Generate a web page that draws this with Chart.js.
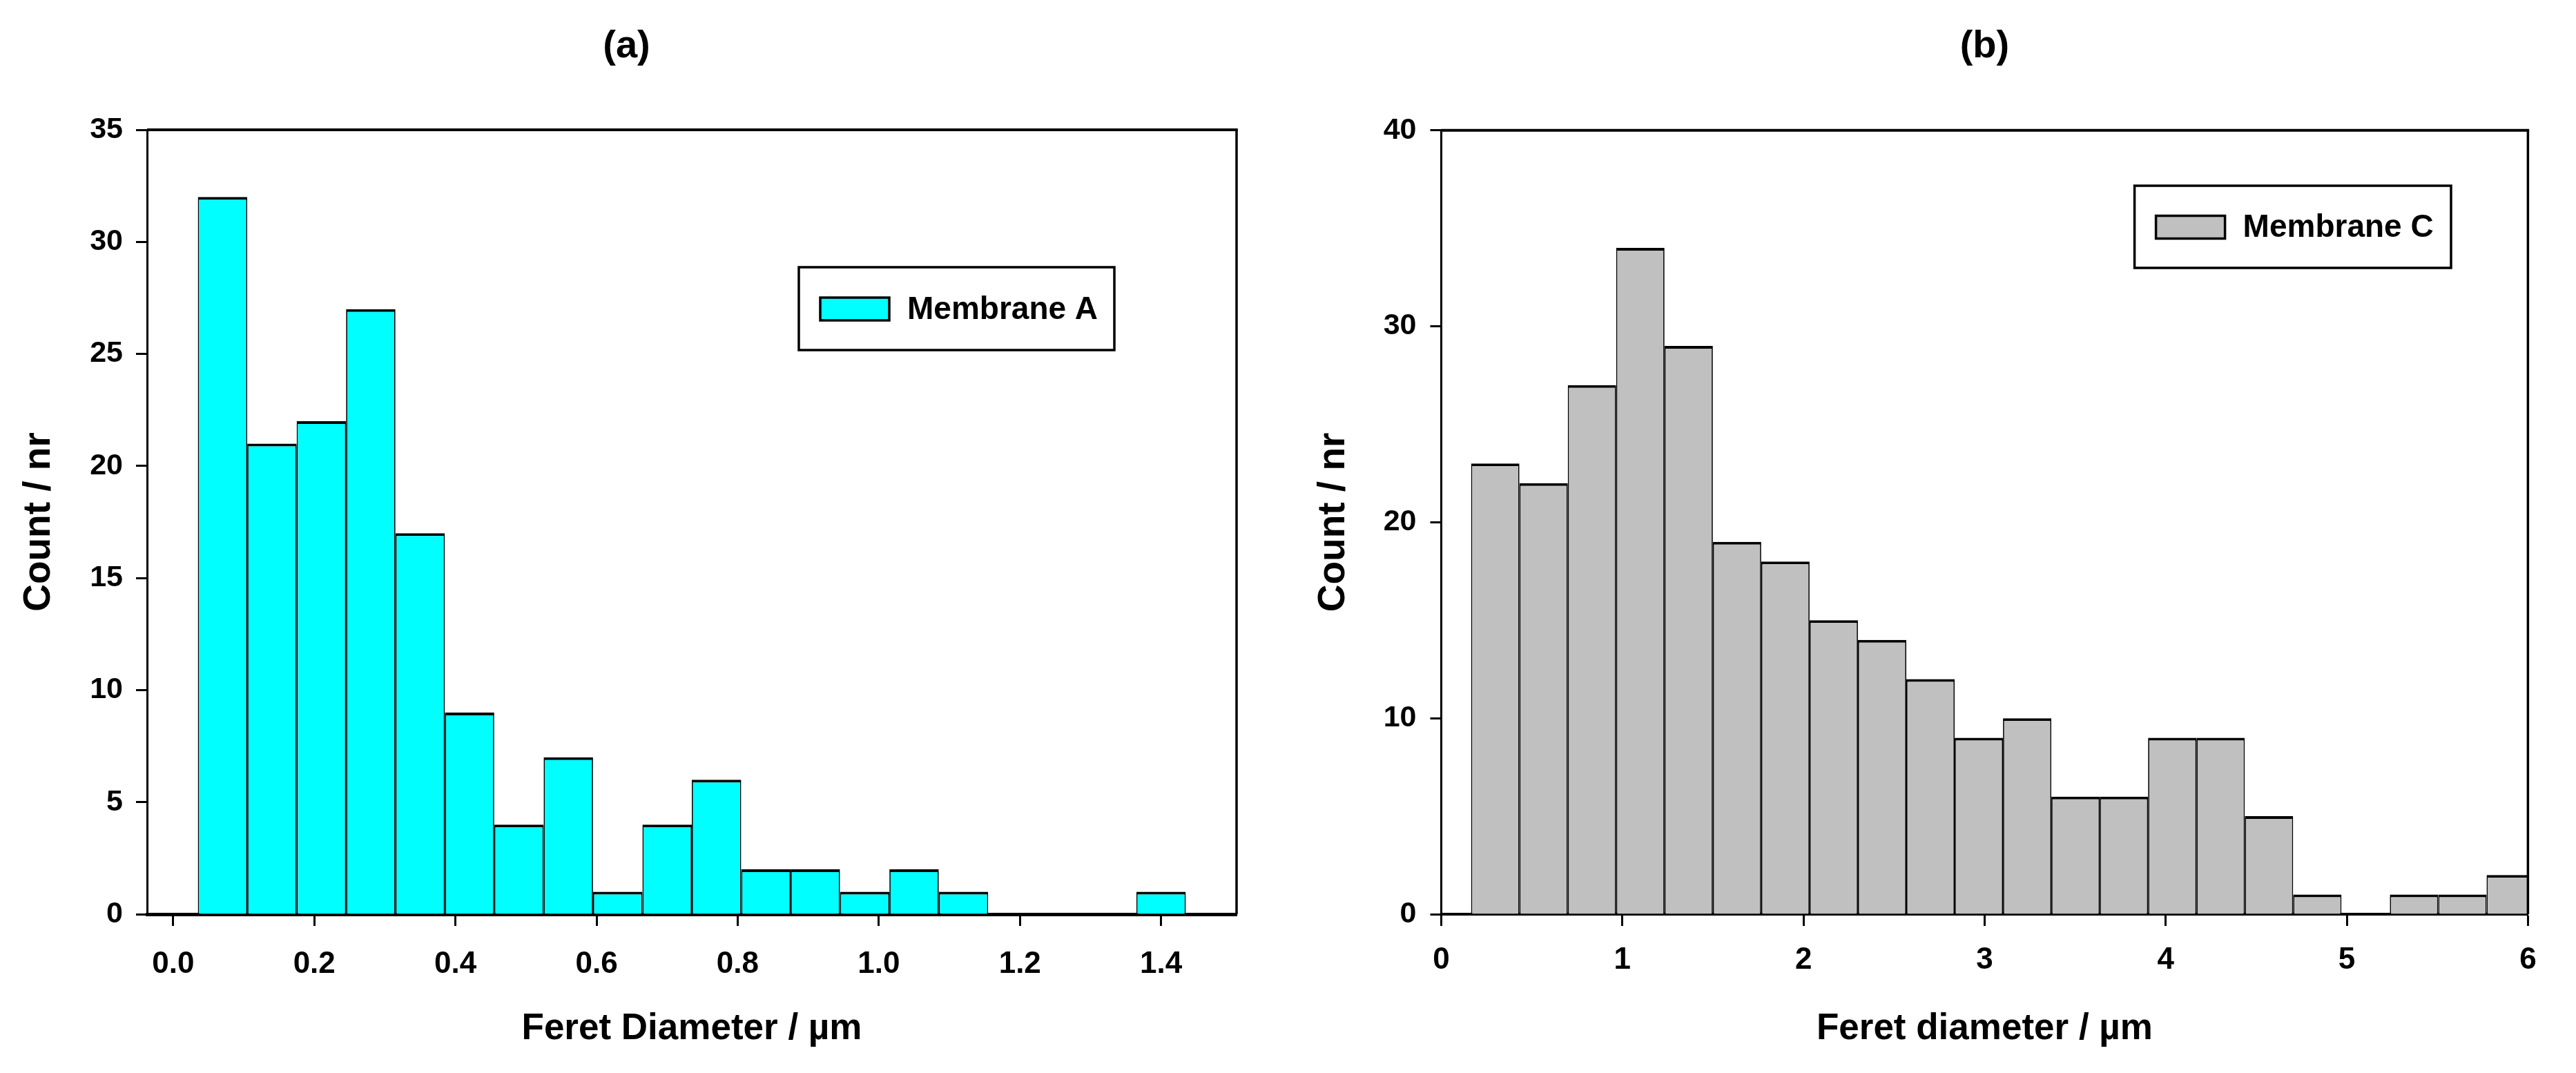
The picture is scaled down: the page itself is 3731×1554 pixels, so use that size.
<!DOCTYPE html>
<html>
<head>
<meta charset="utf-8">
<title>Feret diameter histograms</title>
<script src="https://cdn.jsdelivr.net/npm/chart.js@4.4.0/dist/chart.umd.min.js"></script>
<style>
  html, body { margin: 0; padding: 0; background: #fff; }
  #wrap { position: relative; width: 3731px; height: 1554px; overflow: hidden; }
  canvas { position: absolute; top: 0; }
  #chartA { left: 0; }
  #chartB { left: 1865px; }
</style>
</head>
<body>
<div id="wrap">
  <canvas id="chartA" width="1865" height="1554"></canvas>
  <canvas id="chartB" width="1866" height="1554"></canvas>
</div>
<script>
// (a) Membrane A - bin centres (um) and counts
const binsA = [0.07, 0.14, 0.21, 0.28, 0.35, 0.42, 0.49, 0.56, 0.63, 0.70,
               0.77, 0.84, 0.91, 0.98, 1.05, 1.12, 1.19, 1.26, 1.33, 1.40];
const countsA = [32, 21, 22, 27, 17, 9, 4, 7, 1, 4, 6, 2, 2, 1, 2, 1, 0, 0, 0, 1];
const xTicksA = [0, 0.2, 0.4, 0.6, 0.8, 1.0, 1.2, 1.4];
const yTicksA = [0, 5, 10, 15, 20, 25, 30, 35];

// (b) Membrane C
const binsC = [0.298, 0.565, 0.832, 1.099, 1.366, 1.633, 1.900, 2.167, 2.434, 2.701, 2.968,
               3.235, 3.502, 3.769, 4.036, 4.303, 4.570, 4.837, 5.104, 5.371, 5.638, 5.905];
const countsC = [23, 22, 27, 34, 29, 19, 18, 15, 14, 12, 9, 10, 6, 6, 9, 9, 5, 1, 0, 1, 1, 2];
const xTicksC = [0, 1, 2, 3, 4, 5, 6];
const yTicksC = [0, 10, 20, 30, 40];

const FONT = '"Liberation Sans", Arial, Helvetica, sans-serif';
Chart.defaults.font.family = FONT;
Chart.defaults.font.weight = 'bold';
Chart.defaults.color = '#000';

// top and right edges of the plot box
const frame = {
  id: 'frame',
  afterDraw(chart, args, opts) {
    const { left, right, top, bottom } = chart.chartArea;
    const ctx = chart.ctx;
    ctx.save();
    ctx.strokeStyle = '#000';
    ctx.lineWidth = opts.top;
    ctx.beginPath();
    ctx.moveTo(left, top);
    ctx.lineTo(right + opts.right / 2, top);
    ctx.stroke();
    ctx.lineWidth = opts.right;
    ctx.beginPath();
    ctx.moveTo(right, top);
    ctx.lineTo(right, bottom);
    ctx.stroke();
    ctx.restore();
  }
};

// boxed legend inside the plot
const boxLegend = {
  id: 'boxLegend',
  afterDraw(chart, args, o) {
    const ctx = chart.ctx;
    const ds = chart.data.datasets[0];
    const cy = o.y + o.h / 2;
    ctx.save();
    ctx.strokeStyle = '#000';
    ctx.lineWidth = 3.5;
    ctx.strokeRect(o.x, o.y, o.w, o.h);
    ctx.fillStyle = ds.backgroundColor;
    ctx.fillRect(o.x + 31, cy - 16, 100, 33);
    ctx.strokeRect(o.x + 31, cy - 16, 100, 33);
    ctx.fillStyle = '#000';
    ctx.font = 'bold 46px ' + FONT;
    ctx.textBaseline = 'middle';
    ctx.fillText(ds.label, o.x + 157, cy + 2);
    ctx.restore();
  }
};

function histogram(id, o) {
  return new Chart(document.getElementById(id), {
    type: 'bar',
    data: {
      datasets: [{
        label: o.label,
        data: o.bins.map((x, i) => ({ x: x, y: o.counts[i] })),
        backgroundColor: o.color,
        borderColor: '#000',
        borderWidth: { top: 4, left: 1.75, right: 1.75, bottom: 0 },
        borderSkipped: 'start',
        inflateAmount: 0,
        barPercentage: 1,
        categoryPercentage: 1,
        clip: 0
      }]
    },
    plugins: [frame, boxLegend],
    options: {
      responsive: false,
      animation: false,
      layout: { padding: { left: o.padLeft, right: o.padRight, top: 0, bottom: 0 } },
      plugins: {
        legend: { display: false },
        tooltip: { enabled: false },
        title: {
          display: true,
          text: o.title,
          fullSize: o.titleFull,
          font: { size: 56, weight: 'bold' },
          color: '#000',
          padding: { top: 34, bottom: o.titleBottom }
        },
        frame: { top: 4, right: 3.5 },
        boxLegend: o.legend
      },
      scales: {
        x: {
          type: 'linear',
          min: o.xMin,
          max: o.xMax,
          offset: false,
          z: 1,
          afterFit: s => { s.height = 230; },
          afterBuildTicks: s => { s.ticks = o.xTicks.map(v => ({ value: v })); },
          grid: { offset: false, drawOnChartArea: false, drawTicks: true, tickLength: 17, tickWidth: 3, tickColor: '#000' },
          border: { display: true, color: '#000', width: o.xBorder },
          ticks: {
            padding: o.xPad,
            maxRotation: 0,
            autoSkip: false,
            font: { size: 44, weight: 'bold' },
            callback: o.xFormat
          },
          title: {
            display: true,
            text: o.xTitle,
            font: { size: 53, weight: 'bold' },
            padding: { top: 0, bottom: 32 }
          }
        },
        y: {
          min: 0,
          max: o.yMax,
          z: 1,
          afterFit: s => { s.width = o.yWidth; },
          afterBuildTicks: s => { s.ticks = o.yTicks.map(v => ({ value: v })); },
          grid: { offset: false, drawOnChartArea: false, drawTicks: true, tickLength: 16, tickWidth: 3, tickColor: '#000' },
          border: { display: true, color: '#000', width: 3 },
          ticks: { padding: o.yPad, font: { size: 43, weight: 'bold' } },
          title: {
            display: true,
            text: 'Count / nr',
            font: { size: 55, weight: 'bold' },
            padding: { top: 0, bottom: 0 }
          }
        }
      }
    }
  });
}

histogram('chartA', {
  label: 'Membrane A', title: '(a)', titleFull: true, titleBottom: 86.8,
  bins: binsA, counts: countsA, color: '#00FFFF',
  xMin: -0.037, xMax: 1.507, xTicks: xTicksA, xFormat: v => v.toFixed(1),
  xTitle: 'Feret Diameter / \u00B5m', xBorder: 5, xPad: 29,
  yMax: 35, yTicks: yTicksA,
  padLeft: 24, padRight: 74, yWidth: 189, yPad: 19,
  legend: { x: 1157, y: 387, w: 457, h: 120 }
});

histogram('chartB', {
  label: 'Membrane C', title: '(b)', titleFull: false, titleBottom: 87.6,
  bins: binsC, counts: countsC, color: '#C0C0C0',
  xMin: 0, xMax: 6, xTicks: xTicksC, xFormat: v => String(v),
  xTitle: 'Feret diameter / \u00B5m', xBorder: 4, xPad: 23,
  yMax: 40, yTicks: yTicksC,
  padLeft: 34, padRight: 69.6, yWidth: 188.5, yPad: 20,
  legend: { x: 1226.6, y: 269, w: 458.4, h: 119 }
});
</script>
</body>
</html>
